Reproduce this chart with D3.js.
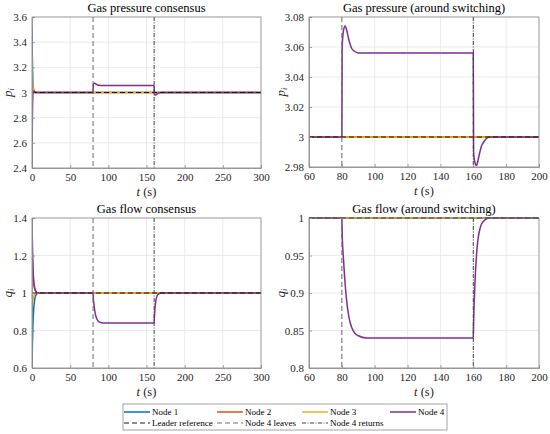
<!DOCTYPE html>
<html>
<head>
<meta charset="utf-8">
<script src="https://cdn.jsdelivr.net/npm/d3@7"></script>
<style>
  body { margin: 0; background: #fff; }
  .tick text { fill: #262626; }
</style>
</head>
<body>
<svg id="chart" width="550" height="434"></svg>
<script>
// time samples (s)
const tEarly = [0, 0.5, 1, 1.5, 2, 3, 4, 5, 6, 8, 10, 20, 300];
const tFull = [0, 0.5, 1, 1.5, 2, 3, 4, 5, 6, 8, 10, 20,
    80, 80.2, 81, 82, 83, 84, 85, 86, 88, 90, 95,
    160, 160.2, 161, 162, 163, 164, 165, 166, 168, 170, 175,
    200, 300];

// gas pressure p_i
const p1 = [3.5, 3.25, 3.12, 3.06, 3.03, 3.008, 2.998, 2.999, 3.0, 3.0, 3.0, 3.0, 3.0];
const p2 = [3.1, 3.06, 3.03, 3.015, 3.01, 3.005, 3.002, 3.0, 3.0, 3.0, 3.0, 3.0, 3.0];
const p3 = [3.3, 3.15, 3.07, 3.035, 3.018, 3.006, 3.002, 3.0, 3.0, 3.0, 3.0, 3.0, 3.0];
const p4 = [2.4, 2.8, 2.95, 3.0, 3.012, 3.01, 3.005, 3.002, 3.0, 3.0, 3.0, 3.0,
    3.0, 3.06, 3.071, 3.074, 3.071, 3.066, 3.062, 3.059, 3.057, 3.056, 3.056,
    3.056, 2.99, 2.983, 2.981, 2.985, 2.99, 2.994, 2.996, 2.999, 3.0, 3.0,
    3.0, 3.0];

// gas flow q_i
const q1 = [0.6, 0.72, 0.8, 0.86, 0.9, 0.95, 0.975, 0.988, 0.994, 0.999, 1.0, 1.0, 1.0];
const q2 = [1.3, 1.2, 1.13, 1.09, 1.06, 1.03, 1.015, 1.007, 1.003, 1.0, 1.0, 1.0, 1.0];
const q3 = [0.9, 0.93, 0.955, 0.97, 0.98, 0.99, 0.995, 0.998, 0.999, 1.0, 1.0, 1.0, 1.0];
const q4 = [1.4, 1.27, 1.18, 1.12, 1.08, 1.04, 1.02, 1.01, 1.004, 1.0, 1.0, 1.0,
    1.0, 0.98, 0.945, 0.912, 0.888, 0.872, 0.861, 0.854, 0.846, 0.843, 0.84,
    0.84, 0.86, 0.912, 0.952, 0.974, 0.985, 0.992, 0.995, 0.999, 1.0, 1.0,
    1.0, 1.0];

const pRef = 3;
const qRef = 1;
const tLeave = 80;
const tReturn = 160;

const nodeNames = ["Node 1", "Node 2", "Node 3", "Node 4"];
const nodeColors = ["#0072BD", "#D95319", "#EDB120", "#7E2F8E"];

const pTicksFull = [2.4, 2.6, 2.8, 3, 3.2, 3.4, 3.6];
const pTicksZoom = [2.98, 3, 3.02, 3.04, 3.06, 3.08];
const qTicksFull = [0.6, 0.8, 1, 1.2, 1.4];
const qTicksZoom = [0.8, 0.85, 0.9, 0.95, 1];
const tTicksFull = [0, 50, 100, 150, 200, 250, 300];
const tTicksZoom = [60, 80, 100, 120, 140, 160, 180, 200];

const serif = "Liberation Serif";

let chart = d3.select("#chart");

function zip(ts, vs) {
    return ts.map(function(t, i) { return {t: t, v: vs[i]}; });
}

let clipId = 0;
function drawPanel(opt) {
    let x = d3.scaleLinear().domain(opt.xDomain).range([opt.left, opt.right]);
    let y = d3.scaleLinear().domain(opt.yDomain).range([opt.bottom, opt.top]);
    let g = chart.append("g");

    // grid
    g.selectAll(".gx").data(opt.xTicks).enter().append("line")
        .attr("x1", d => x(d)).attr("x2", d => x(d))
        .attr("y1", opt.top).attr("y2", opt.bottom)
        .attr("stroke", "#e6e6e6").attr("stroke-width", 0.8);
    g.selectAll(".gy").data(opt.yTicks).enter().append("line")
        .attr("y1", d => y(d)).attr("y2", d => y(d))
        .attr("x1", opt.left).attr("x2", opt.right)
        .attr("stroke", "#e6e6e6").attr("stroke-width", 0.8);

    // clip
    clipId++;
    chart.append("clipPath").attr("id", "clip" + clipId)
        .append("rect")
        .attr("x", opt.left).attr("y", opt.top - 1)
        .attr("width", opt.right - opt.left).attr("height", opt.bottom - opt.top + 2);
    let plot = g.append("g").attr("clip-path", "url(#clip" + clipId + ")");

    let line = d3.line()
        .x(d => x(d.t))
        .y(d => y(d.v))
        .curve(d3.curveMonotoneX);

    opt.series.forEach(function(s, i) {
        plot.append("path")
            .datum(zip(s.t, s.v))
            .attr("fill", "none")
            .attr("stroke", nodeColors[i])
            .attr("stroke-width", 1.5)
            .attr("d", line);
    });

    // leader reference
    plot.append("line")
        .attr("x1", opt.left).attr("x2", opt.right)
        .attr("y1", y(opt.ref)).attr("y2", y(opt.ref))
        .attr("stroke", "#1a1a1a").attr("stroke-width", 1.2)
        .attr("stroke-dasharray", "5,3");

    // switching events
    plot.append("line")
        .attr("x1", x(tLeave)).attr("x2", x(tLeave))
        .attr("y1", opt.top).attr("y2", opt.bottom)
        .attr("stroke", "#6e6e6e").attr("stroke-width", 1)
        .attr("stroke-dasharray", "5,3");
    plot.append("line")
        .attr("x1", x(tReturn)).attr("x2", x(tReturn))
        .attr("y1", opt.top).attr("y2", opt.bottom)
        .attr("stroke", "#404040").attr("stroke-width", 1)
        .attr("stroke-dasharray", "4,1.5,1,1.5");

    // axes
    let xAxis = d3.axisBottom(x).tickValues(opt.xTicks).tickSize(-3).tickPadding(5)
        .tickFormat(d3.format("d"));
    g.append("g").attr("class", "axis")
        .attr("transform", "translate(0," + opt.bottom + ")")
        .call(xAxis);
    let yAxis = d3.axisLeft(y).tickValues(opt.yTicks).tickSize(-3).tickPadding(5)
        .tickFormat(d => String(+d.toFixed(2)));
    g.append("g").attr("class", "axis")
        .attr("transform", "translate(" + opt.left + ",0)")
        .call(yAxis);
    g.selectAll(".axis").attr("font-family", serif).attr("font-size", 11);
    g.selectAll(".axis path").attr("stroke", "#8c8c8c").attr("stroke-width", 0.8);
    g.selectAll(".axis line").attr("stroke", "#8c8c8c").attr("stroke-width", 0.8);

    // box top/right
    g.append("rect")
        .attr("x", opt.left).attr("y", opt.top)
        .attr("width", opt.right - opt.left).attr("height", opt.bottom - opt.top)
        .attr("fill", "none").attr("stroke", "#8c8c8c").attr("stroke-width", 0.8);

    // title
    g.append("text")
        .attr("x", (opt.left + opt.right) / 2)
        .attr("y", opt.top - 5)
        .attr("text-anchor", "middle")
        .attr("font-family", serif)
        .attr("font-size", 12.5)
        .style("fill", "#000")
        .text(opt.title);

    // x label
    let xl = g.append("text")
        .attr("x", (opt.left + opt.right) / 2)
        .attr("y", opt.bottom + 28)
        .attr("text-anchor", "middle")
        .attr("font-family", serif)
        .attr("font-size", 12.5)
        .style("fill", "#262626");
    xl.append("tspan").style("font-style", "italic").text("t");
    xl.append("tspan").text(" (s)");

    // y label
    let yl = g.append("text")
        .attr("transform", "translate(" + opt.ylabX + "," + ((opt.top + opt.bottom) / 2) + ") rotate(-90)")
        .attr("text-anchor", "middle")
        .attr("font-family", serif)
        .attr("font-size", 13)
        .style("fill", "#262626");
    yl.append("tspan").style("font-style", "italic").text(opt.yVar);
    yl.append("tspan").style("font-style", "italic").attr("font-size", 8.5).attr("dy", 2).text("i");
}

drawPanel({
    left: 32, right: 261, top: 17, bottom: 168, ylabX: 12,
    xDomain: [0, 300], yDomain: [2.4, 3.6],
    xTicks: tTicksFull, yTicks: pTicksFull,
    title: "Gas pressure consensus", yVar: "p", ref: pRef,
    series: [{t: tEarly, v: p1}, {t: tEarly, v: p2}, {t: tEarly, v: p3}, {t: tFull, v: p4}]
});
drawPanel({
    left: 309, right: 539, top: 17, bottom: 167, ylabX: 285,
    xDomain: [60, 200], yDomain: [2.98, 3.08],
    xTicks: tTicksZoom, yTicks: pTicksZoom,
    title: "Gas pressure (around switching)", yVar: "p", ref: pRef,
    series: [{t: tEarly, v: p1}, {t: tEarly, v: p2}, {t: tEarly, v: p3}, {t: tFull, v: p4}]
});
drawPanel({
    left: 32, right: 261, top: 218, bottom: 368, ylabX: 12,
    xDomain: [0, 300], yDomain: [0.6, 1.4],
    xTicks: tTicksFull, yTicks: qTicksFull,
    title: "Gas flow consensus", yVar: "q", ref: qRef,
    series: [{t: tEarly, v: q1}, {t: tEarly, v: q2}, {t: tEarly, v: q3}, {t: tFull, v: q4}]
});
drawPanel({
    left: 309, right: 539, top: 218, bottom: 368, ylabX: 285,
    xDomain: [60, 200], yDomain: [0.8, 1],
    xTicks: tTicksZoom, yTicks: qTicksZoom,
    title: "Gas flow (around switching)", yVar: "q", ref: qRef,
    series: [{t: tEarly, v: q1}, {t: tEarly, v: q2}, {t: tEarly, v: q3}, {t: tFull, v: q4}]
});

// legend
let legendItems = [
    {name: nodeNames[0], color: nodeColors[0], dash: null, col: 0, row: 0},
    {name: nodeNames[1], color: nodeColors[1], dash: null, col: 1, row: 0},
    {name: nodeNames[2], color: nodeColors[2], dash: null, col: 2, row: 0},
    {name: nodeNames[3], color: nodeColors[3], dash: null, col: 3, row: 0},
    {name: "Leader reference", color: "#1a1a1a", dash: "5,3", col: 0, row: 1},
    {name: "Node 4 leaves", color: "#6e6e6e", dash: "5,3", col: 1, row: 1},
    {name: "Node 4 returns", color: "#404040", dash: "4,1.5,1,1.5", col: 2, row: 1}
];
let colX = [124, 217, 302, 390];
let rowY = [412, 423];

chart.append("rect")
    .attr("x", 123).attr("y", 404)
    .attr("width", 324).attr("height", 26)
    .attr("fill", "#fff").attr("stroke", "#8c8c8c").attr("stroke-width", 0.8);

let leg = chart.selectAll(".leg").data(legendItems).enter().append("g");
leg.append("line")
    .attr("x1", d => colX[d.col]).attr("x2", d => colX[d.col] + 26)
    .attr("y1", d => rowY[d.row]).attr("y2", d => rowY[d.row])
    .attr("stroke", d => d.color)
    .attr("stroke-width", d => d.dash ? 1.2 : 1.5)
    .attr("stroke-dasharray", d => d.dash);
leg.append("text")
    .attr("x", d => colX[d.col] + 28)
    .attr("y", d => rowY[d.row])
    .attr("dy", "0.33em")
    .attr("font-family", serif)
    .attr("font-size", 9)
    .style("fill", "#000")
    .text(d => d.name);
</script>
</body>
</html>
